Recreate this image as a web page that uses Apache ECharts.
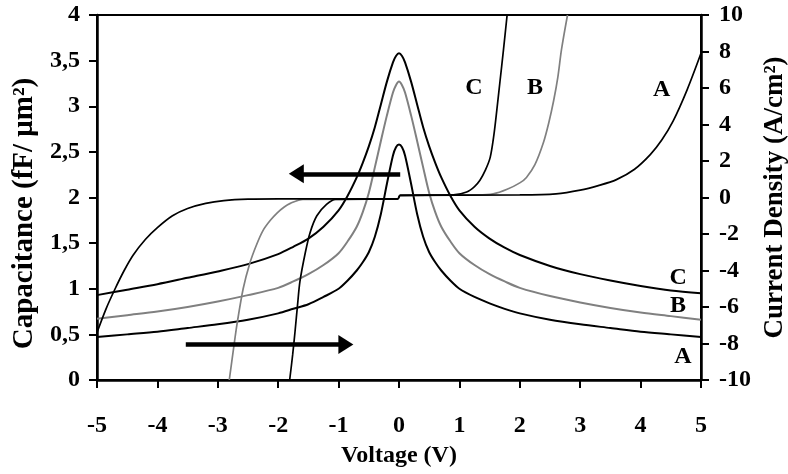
<!DOCTYPE html>
<html lang="en">
<head>
    <meta charset="UTF-8">
    <title>C-V / J-V</title>
    <script type="text/javascript" src="https://cdn.jsdelivr.net/npm/echarts@6/dist/echarts.min.js"></script>
    <style>
        html, body { margin: 0; padding: 0; background: #fff; }
        #chart { width: 788px; height: 474px; }
    </style>
</head>
<body>
    <div id="chart"></div>
<script type="text/javascript">
    // capacitance curves (left axis), shared voltage grid
    var voltage = [-5, -4.5, -4, -3.5, -3, -2.5, -2, -1.75, -1.5, -1.25, -1, -0.85, -0.7, -0.6, -0.5, -0.4, -0.3, -0.2, -0.1, -0.05, 0,
                   0.05, 0.1, 0.2, 0.3, 0.4, 0.5, 0.6, 0.7, 0.85, 1, 1.25, 1.5, 1.75, 2, 2.5, 3, 3.5, 4, 4.5, 5];
    var capC = [0.93, 0.99, 1.05, 1.12, 1.19, 1.27, 1.38, 1.46, 1.55, 1.68, 1.86, 2.02, 2.22, 2.38, 2.56, 2.77, 3.02, 3.27, 3.48, 3.55, 3.58,
                3.55, 3.48, 3.27, 3.02, 2.77, 2.56, 2.38, 2.22, 2.02, 1.86, 1.68, 1.55, 1.45, 1.37, 1.25, 1.16, 1.09, 1.03, 0.98, 0.95];
    var capB = [0.67, 0.71, 0.75, 0.8, 0.86, 0.93, 1.01, 1.08, 1.16, 1.26, 1.39, 1.52, 1.68, 1.84, 2.05, 2.33, 2.62, 2.9, 3.15, 3.23, 3.27,
                3.23, 3.15, 2.9, 2.62, 2.33, 2.05, 1.84, 1.68, 1.52, 1.39, 1.26, 1.16, 1.08, 1.01, 0.92, 0.85, 0.79, 0.74, 0.7, 0.66];
    var capA = [0.47, 0.5, 0.53, 0.57, 0.61, 0.66, 0.73, 0.78, 0.83, 0.91, 1.0, 1.09, 1.2, 1.29, 1.4, 1.57, 1.82, 2.15, 2.46, 2.55, 2.58,
                2.55, 2.46, 2.15, 1.82, 1.57, 1.4, 1.29, 1.2, 1.09, 1.0, 0.91, 0.84, 0.78, 0.73, 0.66, 0.61, 0.57, 0.53, 0.5, 0.47];

    // current density curves (right axis)
    var jVoltA = [-5, -4.85, -4.7, -4.55, -4.4, -4.2, -4, -3.75, -3.5, -3.2, -2.9, -2.5, -2, -0.02,
                  0.02, 2, 2.6, 3, 3.3, 3.6, 3.9, 4.16, 4.35, 4.54, 4.77, 5];
    var jA = [-7.4, -6.1, -5.0, -4.0, -3.15, -2.3, -1.65, -1.0, -0.6, -0.32, -0.17, -0.09, -0.07, -0.07,
              0.12, 0.14, 0.2, 0.4, 0.65, 0.98, 1.55, 2.35, 3.15, 4.2, 5.9, 7.9];
    var jVoltB = [-2.81, -2.74, -2.68, -2.58, -2.47, -2.36, -2.25, -2.13, -2.02, -1.9, -1.8, -1.59, -0.02,
                  0.02, 1.3, 1.56, 1.79, 2.0, 2.11, 2.25, 2.39, 2.48, 2.56, 2.63, 2.69, 2.79];
    var jB = [-10, -8.3, -6.9, -5.0, -3.6, -2.6, -1.8, -1.25, -0.85, -0.52, -0.32, -0.1, -0.07,
              0.12, 0.14, 0.2, 0.45, 0.8, 1.1, 1.8, 3.0, 4.1, 5.3, 6.6, 8.1, 10];
    var jVoltC = [-1.81, -1.76, -1.72, -1.68, -1.64, -1.55, -1.47, -1.36, -1.2, -1.05, -0.02,
                  0.02, 0.9, 1.12, 1.25, 1.34, 1.43, 1.51, 1.57, 1.62, 1.67, 1.73, 1.79];
    var jC = [-10, -8.6, -7.3, -5.9, -4.6, -3.0, -1.9, -1.0, -0.38, -0.1, -0.07,
              0.12, 0.14, 0.3, 0.6, 0.95, 1.5, 2.2, 3.4, 4.8, 6.3, 8.1, 10];

    var font = 'Liberation Serif';
    var black = '#000';
    var gray = '#808080';

    function pairs(xs, ys) {
        return xs.map(function (x, i) { return [x, ys[i]]; });
    }

    function tag(text, coord) {
        return {
            coord: coord,
            symbol: 'circle',
            symbolSize: 0,
            label: {
                show: true, position: 'inside', formatter: text,
                color: black, fontFamily: font, fontWeight: 'bold', fontSize: 24
            }
        };
    }

    function arrow(from, to) {
        return [{ coord: from }, { coord: to }];
    }

    var myChart = echarts.init(document.getElementById('chart'));

    var axisLbl = { color: black, fontFamily: font, fontWeight: 'bold', fontSize: 24 };

    function curve(name, axis, xs, ys, color, width, extra) {
        return Object.assign({
            name: name, type: 'line', yAxisIndex: axis, smooth: 0.3, showSymbol: false,
            lineStyle: { color: color, width: width }, data: pairs(xs, ys)
        }, extra);
    }

    var options = {
        animation: false,
        grid: {
            left: 97, right: 87, top: 15, bottom: 94,
            outerBoundsMode: 'none',
            show: true, borderColor: black, borderWidth: 2, backgroundColor: 'transparent'
        },
        xAxis: {
            type: 'value', min: -5, max: 5, interval: 1,
            name: 'Voltage (V)', nameLocation: 'middle', nameGap: 64,
            nameTextStyle: { color: black, fontFamily: font, fontWeight: 'bold', fontSize: 24 },
            axisLine: { onZero: false, lineStyle: { color: black, width: 2.5 } },
            axisTick: { inside: false, length: 8, lineStyle: { color: black, width: 2 } },
            axisLabel: Object.assign({ margin: 34 }, axisLbl),
            splitLine: { show: false }
        },
        yAxis: [{
            type: 'value', min: 0, max: 4, interval: 0.5, position: 'left',
            name: 'Capacitance (fF/ μm²)', nameLocation: 'middle', nameGap: 54,
            nameTextStyle: {
                color: black, fontFamily: font, fontWeight: 'bold', fontSize: 29,
                padding: [0, 32, 0, 0]
            },
            axisLine: { show: true, onZero: false, lineStyle: { color: black, width: 2.5 } },
            axisTick: { show: true, length: 8, lineStyle: { color: black, width: 2 } },
            axisLabel: Object.assign({
                margin: 17,
                formatter: function (v) { return String(v).replace('.', ','); }
            }, axisLbl),
            splitLine: { show: false }
        }, {
            type: 'value', min: -10, max: 10, interval: 2, position: 'right',
            name: 'Current Density (A/cm²)', nameLocation: 'middle', nameGap: 58,
            nameTextStyle: { color: black, fontFamily: font, fontWeight: 'bold', fontSize: 27 },
            axisLine: { show: true, onZero: false, lineStyle: { color: black, width: 2.5 } },
            axisTick: { show: true, length: 8, lineStyle: { color: black, width: 2 } },
            axisLabel: Object.assign({ margin: 18 }, axisLbl),
            splitLine: { show: false }
        }],
        series: [
            curve('cap C', 0, voltage, capC, black, 2, {
                markPoint: { silent: true, data: [tag('C', [4.62, 1.12])] },
                markLine: {
                    silent: true, symbol: ['none', 'triangle'], symbolSize: [19, 15],
                    lineStyle: { color: black, width: 4.5, type: 'solid' },
                    label: { show: false }, emphasis: { disabled: true },
                    data: [arrow([0.02, 2.26], [-1.7, 2.26]), arrow([-3.53, 0.39], [-0.88, 0.39])]
                }
            }),
            curve('cap B', 0, voltage, capB, gray, 2, {
                markPoint: { silent: true, data: [tag('B', [4.62, 0.81])] }
            }),
            curve('cap A', 0, voltage, capA, black, 2, {
                markPoint: { silent: true, data: [tag('A', [4.7, 0.25])] }
            }),
            curve('J B', 1, jVoltB, jB, gray, 1.7, {
                markPoint: { silent: true, data: [tag('B', [2.25, 6.0])] }
            }),
            curve('J A', 1, jVoltA, jA, black, 1.7, {
                markPoint: { silent: true, data: [tag('A', [4.35, 5.9])] }
            }),
            curve('J C', 1, jVoltC, jC, black, 1.7, {
                markPoint: { silent: true, data: [tag('C', [1.24, 6.0])] }
            })
        ]
    };
    myChart.setOption(options);
</script>
</body>
</html>
